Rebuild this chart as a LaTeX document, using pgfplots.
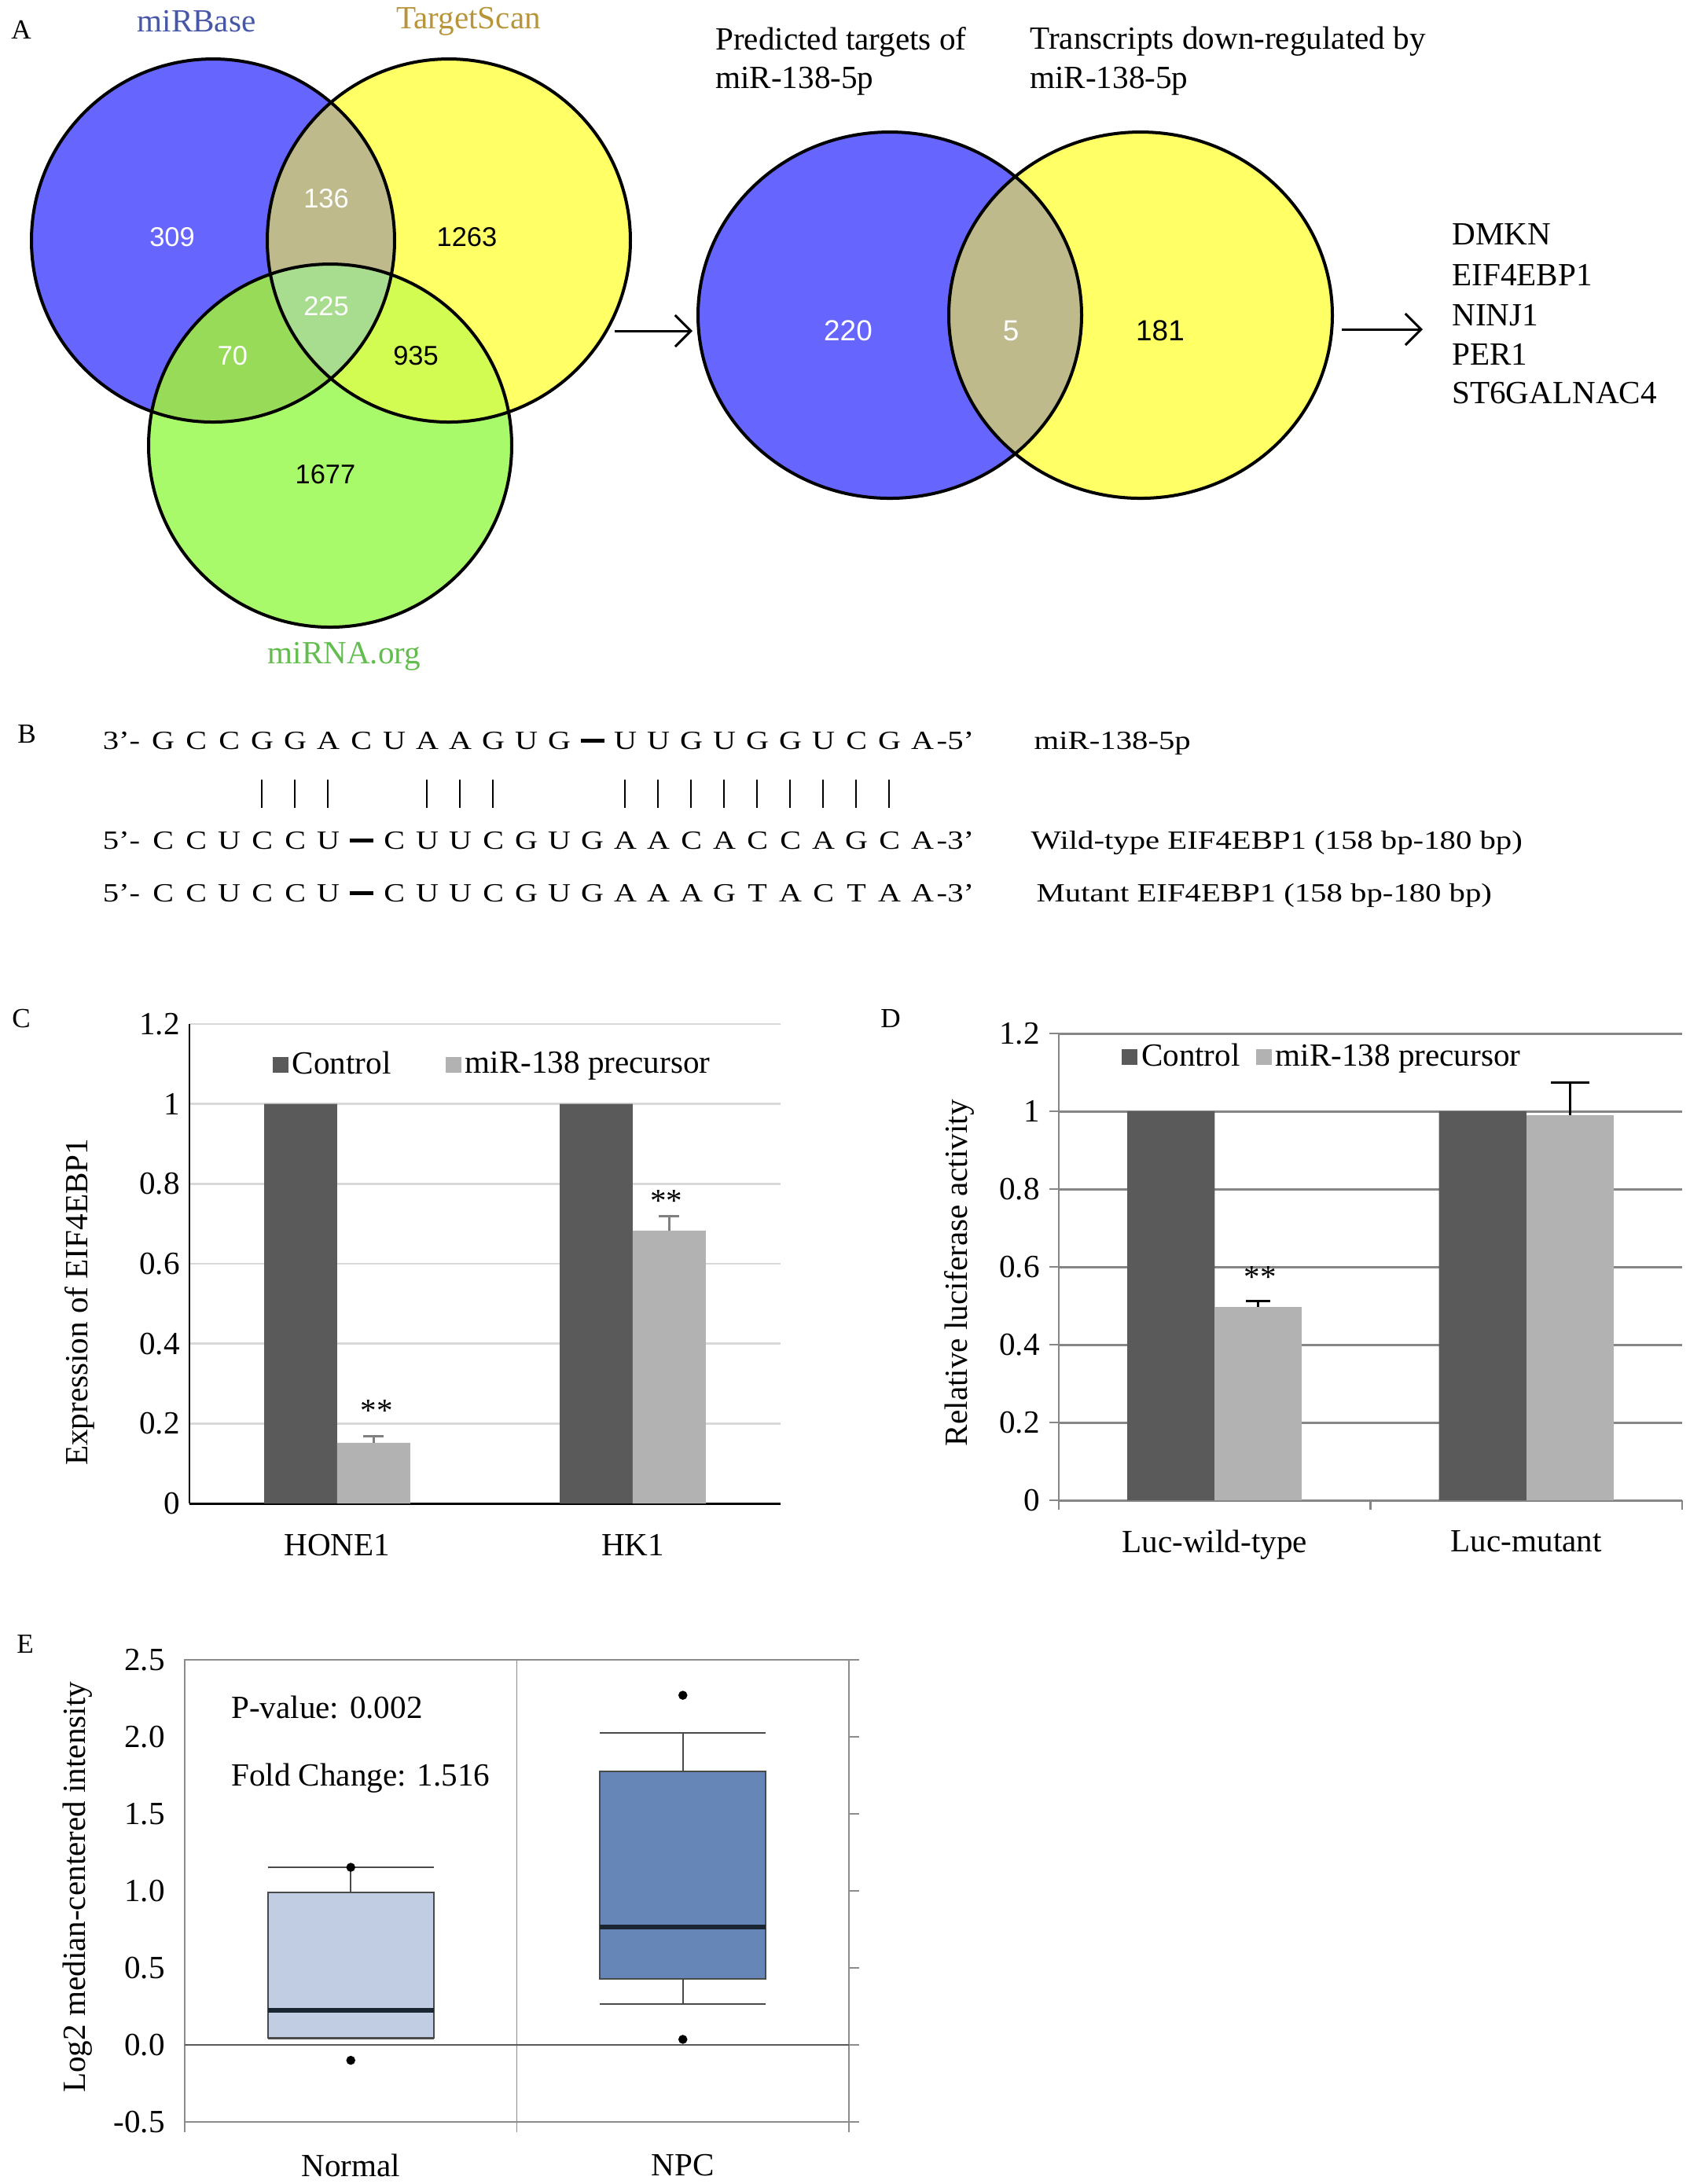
\documentclass[border=0pt]{standalone}
\usepackage{fontspec}
\setmainfont{Liberation Serif}
\newfontfamily\arialfont{Liberation Sans}
\usepackage{pgfplots}
\pgfplotsset{compat=1.18}
\usepgfplotslibrary{statistics}
\usetikzlibrary{arrows.meta}

\definecolor{vblue}{HTML}{6666FF}
\definecolor{vyellow}{HTML}{FFFF66}
\definecolor{vgreen}{HTML}{A9FA6A}
\definecolor{vby}{HTML}{BEBA8C}
\definecolor{vbg}{HTML}{97DB58}
\definecolor{vyg}{HTML}{D2FC52}
\definecolor{vbyg}{HTML}{A8DC8E}
\definecolor{lblue}{HTML}{4657A6}
\definecolor{lgold}{HTML}{B8953A}
\definecolor{lgreen}{HTML}{62BD4E}
\definecolor{bardark}{HTML}{5A5A5A}
\definecolor{barlight}{HTML}{B2B2B2}
\definecolor{gridC}{HTML}{D9D9D9}
\definecolor{errC}{HTML}{808080}
\definecolor{gridD}{HTML}{868686}
\definecolor{frameE}{HTML}{8C8C8C}
\definecolor{zeroE}{HTML}{5A5A5A}
\definecolor{boxN}{HTML}{C1CDE2}
\definecolor{boxT}{HTML}{6586B6}
\definecolor{boxedge}{HTML}{4A4A4A}
\definecolor{medE}{HTML}{1B2633}

\newcommand\tf{\fontsize{11.7}{14}\selectfont}
\newcommand\lf{\fontsize{10}{12}\selectfont}
\newcommand\vnum{\arialfont\fontsize{9.8}{11}\selectfont}
\newcommand\vnumb{\arialfont\fontsize{10.5}{12}\selectfont}
\newcommand\seqfont{\fontsize{9.5}{11}\selectfont}

% one nucleotide per fixed slot, "-" becomes a bold bar
\newlength\slotw \setlength\slotw{4.2mm}
\def\nucseq#1{\nucseqi#1\relax}
\def\nucseqi#1{\ifx\relax#1\else\makebox[\slotw]{\ifx-#1\rule[0.85mm]{3mm}{0.5mm}\else\scalebox{1.2}[1]{#1}\fi}\expandafter\nucseqi\fi}
\newcommand\wide[1]{\scalebox{1.22}[1]{#1}}

\pgfplotsset{
  sqlegend/.style={legend image code/.code={\fill[##1] (0mm,-1mm) rectangle (2mm,1mm);}},
}

\begin{document}
\begin{tikzpicture}
\useasboundingbox (0,0) rectangle (215mm,-277.9mm);

% ---------- canvas for panels A and B (pixel coordinates) ----------
\begin{axis}[at={(0,0)}, anchor=north west, scale only axis,
  width=215mm, height=277.9mm,
  xmin=0, xmax=2150, ymin=0, ymax=2779, y dir=reverse,
  hide axis, clip=false]

% three-set Venn
\fill[vblue] (271,306) circle[radius=23.1mm];
\fill[vyellow] (571,306) circle[radius=23.1mm];
\fill[vgreen] (420,567) circle[radius=23.1mm];
\begin{scope}
  \clip (271,306) circle[radius=23.1mm];
  \fill[vby] (571,306) circle[radius=23.1mm];
  \fill[vbg] (420,567) circle[radius=23.1mm];
\end{scope}
\begin{scope}
  \clip (571,306) circle[radius=23.1mm];
  \fill[vyg] (420,567) circle[radius=23.1mm];
\end{scope}
\begin{scope}
  \clip (271,306) circle[radius=23.1mm];
  \clip (571,306) circle[radius=23.1mm];
  \fill[vbyg] (420,567) circle[radius=23.1mm];
\end{scope}
\draw[line width=0.4mm] (271,306) circle[radius=23.1mm]
  (571,306) circle[radius=23.1mm] (420,567) circle[radius=23.1mm];

\node[font=\lf] at (27,38) {A};
\node[font=\tf, text=lblue] at (250,27) {miRBase};
\node[font=\tf, text=lgold] at (596,27) {TargetScan};
\node[font=\tf, text=lgreen] at (438,835) {miRNA.org};
\node[font=\vnum, text=white] at (219,302) {309};
\node[font=\vnum, text=white] at (415,253) {136};
\node[font=\vnum] at (594,302) {1263};
\node[font=\vnum, text=white] at (415,390) {225};
\node[font=\vnum, text=white] at (296,453) {70};
\node[font=\vnum] at (529,453) {935};
\node[font=\vnum] at (414,604) {1677};

\draw[line width=0.3mm, -{Straight Barb[length=2mm,width=4mm]}] (782,421) -- (881,421);

% two-set Venn
\fill[vblue] (1132,401) ellipse[x radius=24.4mm, y radius=23.3mm];
\fill[vyellow] (1451,401) ellipse[x radius=24.4mm, y radius=23.3mm];
\begin{scope}
  \clip (1132,401) ellipse[x radius=24.4mm, y radius=23.3mm];
  \fill[vby] (1451,401) ellipse[x radius=24.4mm, y radius=23.3mm];
\end{scope}
\draw[line width=0.4mm] (1132,401) ellipse[x radius=24.4mm, y radius=23.3mm]
  (1451,401) ellipse[x radius=24.4mm, y radius=23.3mm];
\node[font=\vnumb, text=white] at (1079,421) {220};
\node[font=\vnumb, text=white] at (1286,421) {5};
\node[font=\vnumb] at (1476,421) {181};

\node[font=\tf, anchor=west] at (898,53) {Predicted targets of};
\node[font=\tf, anchor=west] at (898,103) {miR-138-5p};
\node[font=\tf, anchor=west] at (1298,53) {Transcripts down-regulated by};
\node[font=\tf, anchor=west] at (1298,103) {miR-138-5p};

\draw[line width=0.3mm, -{Straight Barb[length=2mm,width=4mm]}] (1707,419) -- (1810,419);
\node[font=\tf, anchor=west] at (1835,298) {DMKN};
\node[font=\tf, anchor=west] at (1835,350) {EIF4EBP1};
\node[font=\tf, anchor=west] at (1835,401) {NINJ1};
\node[font=\tf, anchor=west] at (1835,451) {PER1};
\node[font=\tf, anchor=west] at (1835,500) {ST6GALNAC4};

% panel B
\node[font=\lf] at (34,934) {B};
\node[font=\seqfont, anchor=base east, inner sep=0pt] at (179,953) {\wide{3’-}};
\node[font=\seqfont, anchor=base west, inner sep=0pt] at (186,953) {\nucseq{GCCGGACUAAGUG-UUGUGGUCGA}};
\node[font=\seqfont, anchor=base west, inner sep=0pt] at (1191,953) {\wide{-5’}};
\draw[line width=0.25mm]
  (333,992) -- (333,1028) (375,992) -- (375,1028) (417,992) -- (417,1028)
  (543,992) -- (543,1028) (585,992) -- (585,1028) (627,992) -- (627,1028)
  (795,992) -- (795,1028) (837,992) -- (837,1028) (879,992) -- (879,1028)
  (921,992) -- (921,1028) (963,992) -- (963,1028) (1005,992) -- (1005,1028)
  (1047,992) -- (1047,1028) (1089,992) -- (1089,1028) (1131,992) -- (1131,1028);
\node[font=\seqfont, anchor=base east, inner sep=0pt] at (179,1080) {\wide{5’-}};
\node[font=\seqfont, anchor=base west, inner sep=0pt] at (186,1080) {\nucseq{CCUCCU-CUUCGUGAACACCAGCA}};
\node[font=\seqfont, anchor=base west, inner sep=0pt] at (1191,1080) {\wide{-3’}};
\node[font=\seqfont, anchor=base east, inner sep=0pt] at (179,1147) {\wide{5’-}};
\node[font=\seqfont, anchor=base west, inner sep=0pt] at (186,1147) {\nucseq{CCUCCU-CUUCGUGAAAGTACTAA}};
\node[font=\seqfont, anchor=base west, inner sep=0pt] at (1191,1147) {\wide{-3’}};
\node[font=\seqfont, anchor=base west, inner sep=0pt] at (1315,953) {\wide{miR-138-5p}};
\node[font=\seqfont, anchor=base west, inner sep=0pt] at (1311,1080) {\wide{Wild-type EIF4EBP1 (158 bp-180 bp)}};
\node[font=\seqfont, anchor=base west, inner sep=0pt] at (1318,1147) {\wide{Mutant EIF4EBP1 (158 bp-180 bp)}};

\node[font=\lf] at (27,1296) {C};
\node[font=\lf] at (1133,1296) {D};
\node[font=\lf] at (32,2092) {E};
\end{axis}

% ---------- panel C ----------
\begin{axis}[at={(24.1mm,-191.3mm)}, anchor=south west, scale only axis,
  width=75.2mm, height=61mm,
  xmin=-0.5, xmax=1.5, ymin=0, ymax=1.2,
  axis x line=bottom, axis y line=left, axis line style={-},
  x axis line style={black, line width=0.3mm},
  y axis line style={black, line width=0.22mm},
  xtick={0,1}, xticklabels={HONE1,HK1},
  ytick={0,0.2,0.4,0.6,0.8,1,1.2},
  major tick length=0pt,
  ymajorgrids, grid style={gridC, line width=0.28mm},
  tick label style={font=\tf},
  /pgf/number format/assume math mode=true,
  xticklabel style={yshift=-2.7mm},
  every axis y label/.style={at={(axis description cs:-0.186,0.42)}, rotate=90, anchor=center, font=\tf},
  ylabel={Expression of EIF4EBP1},
  legend columns=2,
  legend style={at={(0.14,0.915)}, anchor=west, draw=none, fill=none,
    inner sep=0pt, font=\tf, nodes={inner sep=0.5mm},
    /tikz/every even column/.append style={column sep=6.4mm}},
  clip=false]
% bars sit at group position -/+ half a bar width
\addplot[ybar, bar width=0.247, bar shift=0, fill=bardark, draw=none, sqlegend]
  coordinates {(-0.1235,1) (0.8765,1)};
\addlegendentry{Control}
\addplot[ybar, bar width=0.247, bar shift=0, fill=barlight, draw=none, sqlegend,
  error bars/.cd, y dir=plus, y explicit,
  error bar style={draw=errC, line width=0.3mm},
  error mark options={rotate=90, draw=errC, mark size=1.3mm, line width=0.3mm}]
  coordinates {(0.1235,0.152) +- (0,0.017) (1.1235,0.683) +- (0,0.037)};
\addlegendentry{miR-138 precursor}
\node[font=\tf] at (axis cs:0.133,0.232) {**};
\node[font=\tf] at (axis cs:1.114,0.758) {**};
\end{axis}

% ---------- panel D ----------
\begin{axis}[at={(134.7mm,-190.9mm)}, anchor=south west, scale only axis,
  width=79.3mm, height=59.4mm,
  xmin=-0.5, xmax=1.5, ymin=0, ymax=1.2,
  axis x line=bottom, axis y line=left, axis line style={-},
  axis line style={gridD, line width=0.25mm},
  xtick={-0.5,0.5,1.5}, x tick label as interval,
  xticklabels={Luc-wild-type,Luc-mutant},
  ytick={0,0.2,0.4,0.6,0.8,1,1.2},
  tick align=outside, major tick length=1.2mm,
  tick style={gridD, line width=0.25mm},
  ymajorgrids, grid style={gridD, line width=0.3mm},
  tick label style={font=\tf},
  /pgf/number format/assume math mode=true,
  xticklabel style={yshift=-1.4mm},
  every axis y label/.style={at={(axis description cs:-0.159,0.487)}, rotate=90, anchor=center, font=\tf},
  ylabel={Relative luciferase activity},
  legend columns=2,
  legend style={at={(0.1,0.949)}, anchor=west, draw=none, fill=none,
    inner sep=0pt, font=\tf, nodes={inner sep=0.5mm},
    /tikz/every even column/.append style={column sep=1.5mm}},
  clip=false]
\addplot[ybar, bar width=0.28, bar shift=0, fill=bardark, draw=none, sqlegend]
  coordinates {(-0.14,1) (0.86,1)};
\addlegendentry{Control}
\addplot[ybar, bar width=0.28, bar shift=0, fill=barlight, draw=none, sqlegend,
  error bars/.cd, y dir=plus, y explicit,
  error bar style={draw=black, line width=0.3mm},
  error mark options={rotate=90, draw=black, mark size=1.55mm, line width=0.3mm}]
  coordinates {(0.14,0.497) +- (0,0.016)};
\addlegendentry{miR-138 precursor}
\addplot[ybar, bar width=0.28, bar shift=0, fill=barlight, draw=none, forget plot,
  error bars/.cd, y dir=plus, y explicit,
  error bar style={draw=black, line width=0.3mm},
  error mark options={rotate=90, draw=black, mark size=2.45mm, line width=0.3mm}]
  coordinates {(1.14,0.99) +- (0,0.083)};
\node[font=\tf] at (axis cs:0.146,0.574) {**};
\end{axis}

% ---------- panel E ----------
\begin{axis}[at={(23.5mm,-270mm)}, anchor=south west, scale only axis,
  width=84.5mm, height=58.8mm,
  xmin=-0.5, xmax=1.5, ymin=-0.5, ymax=2.5,
  axis line style={frameE, line width=0.18mm},
  xtick={-0.5,0.5,1.5}, x tick label as interval, xticklabels={Normal,NPC},
  xtick pos=bottom, xmajorgrids, grid style={frameE, line width=0.15mm},
  ytick={-0.5,0,0.5,1,1.5,2,2.5}, ytick pos=right, yticklabel pos=left,
  yticklabel style={/pgf/number format/fixed, /pgf/number format/fixed zerofill,
    /pgf/number format/precision=1},
  tick align=outside, major tick length=1.3mm,
  tick style={frameE, line width=0.18mm},
  tick label style={font=\tf},
  /pgf/number format/assume math mode=true,
  xticklabel style={yshift=-1.6mm},
  every axis y label/.style={at={(axis description cs:-0.161,0.508)}, rotate=90, anchor=center, font=\tf},
  ylabel={Log2 median-centered intensity},
  boxplot/draw direction=y,
  clip=false]
\draw[zeroE, line width=0.25mm] (axis cs:-0.5,0) -- (axis cs:1.5,0);
\addplot[boxplot prepared={lower whisker=0.04, lower quartile=0.045, median=0.224,
    upper quartile=0.99, upper whisker=1.153, draw position=0,
    box extend=0.5, whisker extend=0.5,
    every box/.style={draw=boxedge, fill=boxN, line width=0.22mm},
    every whisker/.style={draw=boxedge, line width=0.22mm},
    every median/.style={draw=medE, line width=0.6mm}},
  mark=*, mark size=0.5mm, mark options={draw=black, fill=black}]
  table[row sep=\\, y index=0] {1.153\\ -0.10\\};
\addplot[boxplot prepared={lower whisker=0.265, lower quartile=0.429, median=0.765,
    upper quartile=1.776, upper whisker=2.025, draw position=1,
    box extend=0.5, whisker extend=0.5,
    every box/.style={draw=boxedge, fill=boxT, line width=0.22mm},
    every whisker/.style={draw=boxedge, line width=0.22mm},
    every median/.style={draw=medE, line width=0.6mm}},
  mark=*, mark size=0.5mm, mark options={draw=black, fill=black}]
  table[row sep=\\, y index=0] {2.27\\ 0.036\\};
\node[font=\tf, anchor=west] at (axis cs:-0.389,2.19) {P-value: 0.002};
\node[font=\tf, anchor=west] at (axis cs:-0.389,1.73) {Fold Change: 1.516};
\end{axis}
\end{tikzpicture}
\end{document}
